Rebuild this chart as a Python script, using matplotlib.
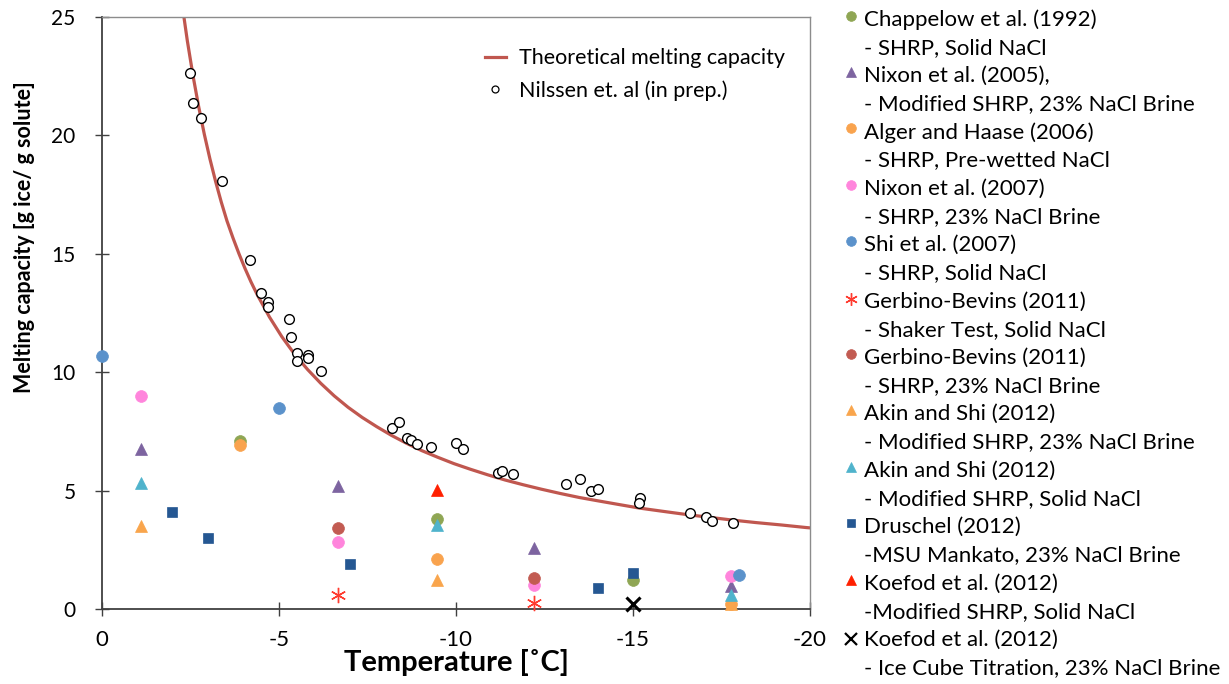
import matplotlib
matplotlib.use("Agg")
import matplotlib.pyplot as plt
from matplotlib.lines import Line2D

plt.rcParams['axes.unicode_minus'] = False
plt.rcParams['font.family'] = ['Lato', 'DejaVu Sans']

# ---------------- data ----------------
# theoretical melting capacity curve
theory_T = [-2.10, -2.25, -2.41, -2.57, -2.73, -2.89, -3.05, -3.21, -3.37, -3.53,
            -3.70, -3.87, -4.04, -4.21, -4.38, -4.73, -5.08, -5.44, -5.81, -6.18,
            -6.56, -6.95, -7.35, -7.76, -8.18, -8.60, -9.03, -9.48, -9.94, -10.41,
            -10.89, -11.38, -11.89, -12.41, -12.94, -13.48, -14.04, -14.61, -15.19,
            -15.82, -16.46, -17.11, -17.78, -18.47, -19.18, -19.89, -20.60]
theory_cap = [27.57, 25.67, 24.00, 22.53, 21.22, 20.05, 19.00, 18.05, 17.18, 16.39,
              15.67, 15.00, 14.38, 13.81, 13.29, 12.33, 11.50, 10.76, 10.11, 9.53,
              9.00, 8.52, 8.09, 7.70, 7.33, 7.00, 6.69, 6.41, 6.14, 5.90,
              5.67, 5.45, 5.25, 5.06, 4.88, 4.71, 4.56, 4.41, 4.26,
              4.13, 4.00, 3.88, 3.76, 3.65, 3.55, 3.44, 3.35]

nilssen_T = [-2.49, -2.57, -2.80, -3.39, -4.18, -4.49, -4.69, -4.69, -5.28, -5.33,
             -5.50, -5.52, -5.81, -5.81, -6.18, -8.20, -8.40, -8.61, -8.72, -8.91,
             -9.28, -10.00, -10.19, -11.19, -11.31, -11.62, -13.10, -13.50, -13.80,
             -14.01, -15.20, -15.18, -16.61, -17.06, -17.22, -17.83]
nilssen_cap = [22.64, 21.37, 20.73, 18.07, 14.74, 13.34, 12.96, 12.75, 12.25, 11.47,
               10.83, 10.49, 10.74, 10.61, 10.04, 7.66, 7.91, 7.23, 7.14, 6.95,
               6.86, 7.00, 6.76, 5.73, 5.84, 5.70, 5.26, 5.48, 5.00,
               5.08, 4.70, 4.48, 4.04, 3.87, 3.72, 3.65]

series_names = [
    ("Chappelow et al. (1992)", "- SHRP, Solid NaCl"),
    ("Nixon et al. (2005),", "- Modified SHRP, 23% NaCl Brine"),
    ("Alger and Haase (2006)", "- SHRP, Pre-wetted NaCl"),
    ("Nixon et al. (2007)", "- SHRP, 23% NaCl Brine"),
    ("Shi et al. (2007)", "- SHRP, Solid NaCl"),
    ("Gerbino-Bevins (2011)", "- Shaker Test, Solid NaCl"),
    ("Gerbino-Bevins (2011)", "- SHRP, 23% NaCl Brine"),
    ("Akin and Shi (2012)", "- Modified SHRP, 23% NaCl Brine"),
    ("Akin and Shi (2012)", "- Modified SHRP, Solid NaCl"),
    ("Druschel (2012)", "-MSU Mankato, 23% NaCl Brine"),
    ("Koefod et al. (2012)", "-Modified SHRP, Solid NaCl"),
    ("Koefod et al. (2012)", "- Ice Cube Titration, 23% NaCl Brine"),
]
series_T = [
    [-3.90, -9.45, -15.01],
    [-1.10, -6.66, -12.21, -17.77],
    [-3.90, -9.45, -17.77],
    [-1.10, -6.66, -12.21, -17.77],
    [0.00, -5.00, -18.00],
    [-6.66, -12.21],
    [-6.66, -12.21],
    [-1.10, -9.45, -17.77],
    [-1.10, -9.45, -17.77],
    [-1.99, -2.99, -7.00, -14.01, -15.01],
    [-9.45],
    [-15.01],
]
series_cap = [
    [7.11, 3.79, 1.24],
    [6.76, 5.21, 2.59, 0.97],
    [6.93, 2.10, 0.20],
    [9.00, 2.82, 1.01, 1.39],
    [10.70, 8.50, 1.42],
    [0.59, 0.27],
    [3.42, 1.30],
    [3.50, 1.22, 0.22],
    [5.31, 3.53, 0.59],
    [4.08, 3.01, 1.89, 0.90, 1.51],
    [5.03],
    [0.21],
]

x_ticks = [0, -5, -10, -15, -20]
x_tick_labels = ["0", "-5", "-10", "-15", "-20"]
y_ticks = [0, 5, 10, 15, 20, 25]
y_tick_labels = ["0", "5", "10", "15", "20", "25"]

# ---------------- styles ----------------
styles = [
    dict(marker='o', color='#8FA654', ms=8.5),
    dict(marker='^', color='#7D64A0', ms=8.5),
    dict(marker='o', color='#F9A34E', ms=8.5),
    dict(marker='o', color='#FF85DC', ms=8.5),
    dict(marker='o', color='#5B92CB', ms=8.5),
    dict(marker=(6, 2, 0), color='#FF3B2F', ms=11, mew=1.0),
    dict(marker='o', color='#C25B52', ms=8.5),
    dict(marker='^', color='#F9A54C', ms=8.5),
    dict(marker='^', color='#4FB3CC', ms=8.5),
    dict(marker='s', color='#255792', ms=7),
    dict(marker='^', color='#FF2000', ms=8.5),
    dict(marker='x', color='black', ms=10, mew=2.2),
]

W, H = 1229, 684
fig = plt.figure(figsize=(W / 100, H / 100), dpi=100)
ax = fig.add_axes([102 / W, 1 - 609 / H, (810 - 102) / W, (609 - 17) / H])

for (T, c, st) in zip(series_T, series_cap, styles):
    ax.plot(T, c, linestyle='none', marker=st['marker'], color=st['color'],
            markersize=st['ms'], markeredgewidth=st.get('mew', 0.5),
            markeredgecolor=st['color'], zorder=3, clip_on=False)

ax.plot(theory_T, theory_cap, color='#C0574F', lw=2.3, zorder=2,
        solid_joinstyle='round')
ax.plot(nilssen_T, nilssen_cap, linestyle='none', marker='o', markersize=7,
        markerfacecolor='white', markeredgecolor='black', markeredgewidth=1.0,
        zorder=4)

ax.set_xlim(0, -20)
ax.set_ylim(0, 25)
ax.set_xticks(x_ticks)
ax.set_xticklabels(x_tick_labels, fontsize=16)
ax.set_yticks(y_ticks)
ax.set_yticklabels(y_tick_labels, fontsize=15)
ax.tick_params(axis='both', direction='inout', length=10, width=1.0, color='#404040',
               labelcolor='black')
ax.tick_params(axis='x', pad=10)
ax.tick_params(axis='y', pad=14)
for s in ['left', 'bottom']:
    ax.spines[s].set_color('#404040')
    ax.spines[s].set_linewidth(1.3)
for s in ['top', 'right']:
    ax.spines[s].set_color('#8C8C8C')
    ax.spines[s].set_linewidth(1.0)

handles = [Line2D([0], [0], color='#C0574F', lw=2.3),
           Line2D([0], [0], linestyle='none', marker='o', markersize=5,
                  markerfacecolor='white', markeredgecolor='black', markeredgewidth=0.9)]
ax.legend(handles, ['Theoretical melting capacity', 'Nilssen et. al (in prep.)'],
          loc='upper right', bbox_to_anchor=(0.992, 0.98), frameon=False,
          fontsize=15.5, handlelength=1.0, handletextpad=0.6, labelspacing=0.55)

fig.text(456 / W, 1 - 663 / H, 'Temperature [˚C]', ha='center', va='center',
         fontsize=21, fontweight='bold')
fig.text(25 / W, 1 - 237 / H, 'Melting capacity [g ice/ g solute]', ha='center',
         va='center', rotation=90, fontsize=15.5, fontweight='bold')

# right-hand legend
y0 = 19.5
dy = 28.2
for i, ((l1, l2), st) in enumerate(zip(series_names, styles)):
    ya = y0 + 2 * i * dy
    yb = ya + dy
    mk = st['marker']
    if mk == 'x':
        ms, mew, off = 8, 1.6, 1
    elif mk == (6, 2, 0):
        ms, mew, off = 9, 1.0, 3
    elif mk == 's':
        ms, mew, off = 6, 0.5, 4
    else:
        ms, mew, off = 7, 0.5, 4
    fig.add_artist(Line2D([851 / W], [1 - (ya - off) / H], transform=fig.transFigure,
                          linestyle='none', marker=mk, color=st['color'],
                          markersize=ms, markeredgewidth=mew,
                          markeredgecolor=st['color']))
    fig.text(864 / W, 1 - ya / H, l1, ha='left', va='center', fontsize=16)
    fig.text(864 / W, 1 - yb / H, l2, ha='left', va='center', fontsize=16)

fig.savefig('out.png', dpi=100)
